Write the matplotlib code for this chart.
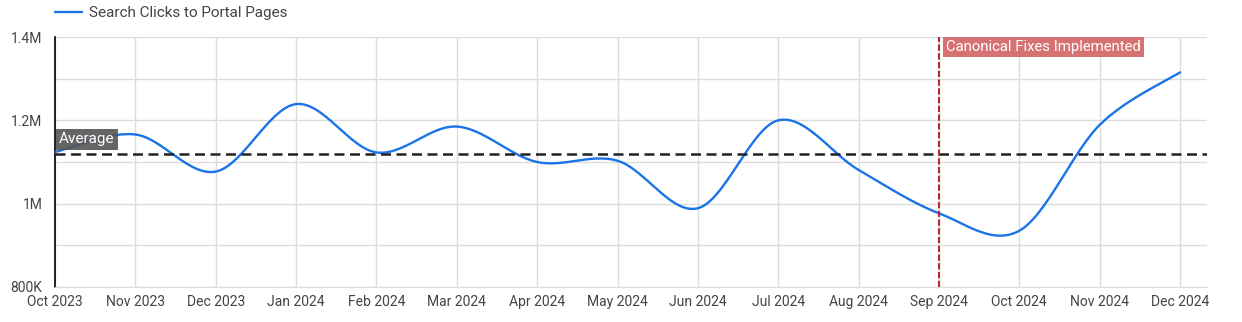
import numpy as np
import matplotlib
matplotlib.use('Agg')
import matplotlib.pyplot as plt
from matplotlib.ticker import FixedLocator, FuncFormatter

plt.rcParams['font.family'] = ['Roboto', 'DejaVu Sans']

months = ['Oct 2023', 'Nov 2023', 'Dec 2023', 'Jan 2024', 'Feb 2024', 'Mar 2024',
          'Apr 2024', 'May 2024', 'Jun 2024', 'Jul 2024', 'Aug 2024', 'Sep 2024',
          'Oct 2024', 'Nov 2024', 'Dec 2024']
clicks = [1124000, 1166000, 1077000, 1239000, 1123000, 1185000, 1100000, 1103000,
          989000, 1200000, 1081000, 977000, 935000, 1189000, 1315000]
event_month = 'Sep 2024'
event_label = 'Canonical Fixes Implemented'
series_name = 'Search Clicks to Portal Pages'


def catmull_rom(x, y, steps=30):
    # smooth drawing of the line through the monthly points
    x = np.asarray(x, float)
    y = np.asarray(y, float)
    px = np.concatenate([[x[0]], x, [x[-1]]])
    py = np.concatenate([[y[0]], y, [y[-1]]])
    xs, ys = [], []
    t = np.linspace(0, 1, steps, endpoint=False)
    for i in range(1, len(px) - 2):
        for p, out in ((px, xs), (py, ys)):
            p0, p1, p2, p3 = p[i - 1], p[i], p[i + 1], p[i + 2]
            out.extend(0.5 * ((2 * p1) + (-p0 + p2) * t
                              + (2 * p0 - 5 * p1 + 4 * p2 - p3) * t ** 2
                              + (-p0 + 3 * p1 - 3 * p2 + p3) * t ** 3))
    xs.append(x[-1])
    ys.append(y[-1])
    return np.array(xs), np.array(ys)


def fmt(v, pos):
    if v >= 1e6:
        s = ('%.1f' % (v / 1e6)).rstrip('0').rstrip('.')
        return s + 'M'
    return '%dK' % (v / 1e3)


idx = np.arange(len(months))
avg = np.mean(clicks)

fig = plt.figure(figsize=(12.42, 3.22), dpi=100)
ax = fig.add_axes([55 / 1242, 35 / 322, 1152 / 1242, 250 / 322])

sx, sy = catmull_rom(idx, clicks)
ax.plot(sx, sy, color='#1a73e8', lw=1.7, zorder=3, label=series_name, solid_capstyle='round')
ax.axhline(avg, color='#222222', lw=1.8, ls=(0, (4, 2.2)), zorder=4)

ev = months.index(event_month)
ax.axvline(ev, color='#b8282e', lw=1.5, ls=(0, (3, 1.2)), zorder=4)

ax.set_xlim(0, 14.336)
ax.set_ylim(800000, 1400000)
ax.xaxis.set_major_locator(FixedLocator(idx))
ax.set_xticklabels(months)
ax.yaxis.set_major_locator(FixedLocator([800000, 1000000, 1200000, 1400000]))
ax.yaxis.set_minor_locator(FixedLocator([900000, 1100000, 1300000]))
ax.yaxis.set_major_formatter(FuncFormatter(fmt))
ax.grid(True, which='both', color='#dcdcdc', lw=1)
ax.set_axisbelow(True)
ax.tick_params(axis='both', which='both', length=0, labelsize=10, colors='#444444')
ax.tick_params(axis='y', pad=9)
ax.tick_params(axis='x', pad=6)
for s in ['top', 'right']:
    ax.spines[s].set_visible(False)
ax.spines['bottom'].set_color('#dcdcdc')
ax.spines['left'].set_color('#000000')
ax.spines['left'].set_linewidth(1.2)

ax.annotate('Average', xy=(0, avg), xytext=(2.8, 5.2), textcoords='offset points',
            ha='left', va='bottom', color='white', fontsize=11, zorder=5,
            bbox=dict(boxstyle='square,pad=0.22', fc='#555555', ec='none', alpha=0.9))
ax.annotate(event_label, xy=(ev, 1400000), xytext=(5.4, -2.2), textcoords='offset points',
            ha='left', va='top', color='white', fontsize=10.7, zorder=5,
            bbox=dict(boxstyle='square,pad=0.22', fc='#d46a6a', ec='none', alpha=0.95))

ax.legend(loc='center left', bbox_to_anchor=(55 / 1242, 309 / 322),
          bbox_transform=fig.transFigure, frameon=False, fontsize=11,
          handlelength=1.75, handletextpad=0.45, borderaxespad=0, borderpad=0,
          labelcolor='#444444')

fig.savefig('out.png', dpi=100)
